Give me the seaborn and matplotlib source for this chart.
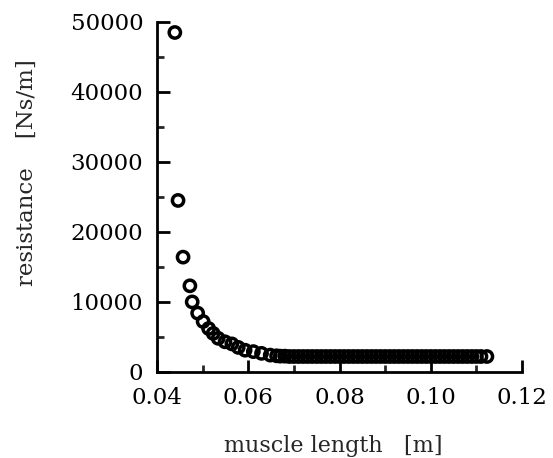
import matplotlib.pyplot as plt
import pandas as pd
import seaborn as sns

# muscle length [m] and resistance [Ns/m]
length = [
    0.0439, 0.0446, 0.0457,
    0.0472, 0.0477, 0.0489, 0.0501, 0.0513, 0.0523, 0.0534, 0.0549,
    0.0564, 0.0578, 0.0593, 0.0611, 0.0629, 0.0648, 0.0662,
    0.067, 0.068, 0.069, 0.070, 0.071, 0.072, 0.073, 0.074, 0.075,
    0.076, 0.077, 0.078, 0.079, 0.080, 0.081, 0.082, 0.083, 0.084,
    0.085, 0.086, 0.087, 0.088, 0.089, 0.090, 0.091, 0.092, 0.093,
    0.094, 0.095, 0.096, 0.097, 0.098, 0.099, 0.100, 0.101, 0.102,
    0.103, 0.104, 0.105, 0.106, 0.107, 0.108, 0.109, 0.110, 0.111,
    0.1123,
]
resistance = [
    48500, 24500, 16400,
    12300, 10000, 8400, 7200, 6200, 5500, 4800, 4300,
    4000, 3500, 3100, 2900, 2650, 2400, 2300,
    2250, 2250, 2200, 2200, 2200, 2200, 2200, 2200, 2200,
    2200, 2200, 2200, 2200, 2200, 2200, 2200, 2200, 2200,
    2200, 2200, 2200, 2200, 2200, 2200, 2200, 2200, 2200,
    2200, 2200, 2200, 2200, 2200, 2200, 2200, 2200, 2200,
    2200, 2200, 2200, 2200, 2200, 2200, 2200, 2200, 2200,
    2200,
]
x_ticks = [0.04, 0.06, 0.08, 0.10, 0.12]
x_labels = ["0.04", "0.06", "0.08", "0.10", "0.12"]
y_ticks = [0, 10000, 20000, 30000, 40000, 50000]

df = pd.DataFrame({"length": length, "resistance": resistance})

sns.set_style("ticks")
plt.rcParams["font.family"] = ["DejaVu Serif"]
plt.rcParams["xtick.direction"] = "in"
plt.rcParams["ytick.direction"] = "in"

fig = plt.figure(figsize=(5.53, 4.58), dpi=100)
ax = fig.add_axes([0.284, 0.188, 0.66, 0.764])

sns.scatterplot(data=df, x="length", y="resistance", ax=ax,
                marker="o", s=66, facecolor="none", edgecolor="black",
                linewidth=2.5, clip_on=False)

ax.set_xlim(0.04, 0.12)
ax.set_ylim(0, 50000)
ax.set_xticks(x_ticks)
ax.set_xticklabels(x_labels)
ax.set_xticks([0.05, 0.07, 0.09, 0.11], minor=True)
ax.set_yticks(y_ticks)
ax.set_yticks([5000, 15000, 25000, 35000, 45000], minor=True)

for side in ["top", "right"]:
    ax.spines[side].set_visible(False)
for side in ["left", "bottom"]:
    ax.spines[side].set_linewidth(2)
    ax.spines[side].set_color("black")

ax.tick_params(axis="y", which="major", direction="in", length=9, width=2,
               labelsize=16.5, colors="black", pad=10)
ax.tick_params(axis="x", which="major", direction="in", length=9, width=2,
               labelsize=16.5, colors="black", pad=11)
ax.tick_params(which="minor", direction="in", length=5, width=2)

ax.set_xlabel("muscle length   [m]", fontsize=16)
ax.set_ylabel("resistance    [Ns/m]", fontsize=16.5)
ax.xaxis.set_label_coords(0.482, -0.18)
ax.yaxis.set_label_coords(-0.326, 0.571)

fig.savefig("out.png", dpi=100)
